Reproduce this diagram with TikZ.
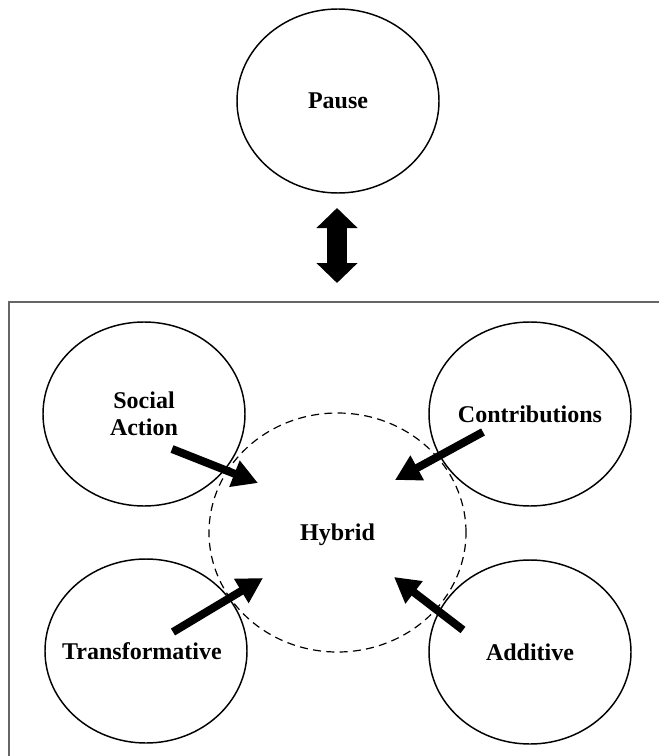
\documentclass[tikz,border=0pt]{standalone}
\usepackage{fontspec}
\setmainfont{Liberation Serif}
\usetikzlibrary{shapes.geometric,arrows.meta}
\newcommand{\zw}[1]{\makebox[0pt]{#1}}
\begin{document}
\begin{tikzpicture}[x=0.75pt,y=-0.75pt,
  oval/.style={draw=black,line width=1.1pt,ellipse,minimum width=151.5pt,minimum height=138pt,
    inner sep=0pt,font=\fontsize{18}{20}\selectfont\bfseries,text depth=0pt,align=center},
  hyb/.style={oval,dashed,dash pattern=on 6pt off 4pt,line width=0.9pt,minimum width=192.75pt,minimum height=179.25pt},
  feed/.style={line width=6pt,-{Triangle[length=19pt,width=20pt]}},
  both/.style={line width=15pt,{Triangle[length=15pt,width=30pt]}-{Triangle[length=15pt,width=30pt]}},
  frame/.style={draw=black!60,line width=1.1pt}]
\useasboundingbox (0,0) rectangle (659,756);
\clip (0,0) rectangle (659,756);
\fill[white] (0,0) rectangle (659,756);
% outer frame (runs past the right and bottom edges)
\draw[frame] (9,302) rectangle (700,800);
% nodes
\node[oval] (pause) at (338,101) {Pause};
\node[hyb] (hybrid) at (337.5,532.5) {Hybrid};
\node[oval] (social) at (144,414) {Social\\Action};
\node[oval] (contrib) at (530,414) {\zw{Contributions}};
\node[oval] (transf) at (146,651) {\zw{\hspace{-6pt}Transformative}};
\node[oval] (additive) at (530,652) {Additive};
% double arrow
\coordinate (dtop) at (337,208);
\coordinate (dbot) at (337,283);
\draw[both] (dtop) -- (dbot);
% feeding arrows
\coordinate (sa1) at (172,449); \coordinate (sa2) at (258,483);
\coordinate (co1) at (483,432); \coordinate (co2) at (395,480);
\coordinate (tr1) at (173,632); \coordinate (tr2) at (263,578);
\coordinate (ad1) at (463,630); \coordinate (ad2) at (394,577);
\draw[feed] (sa1) -- (sa2);
\draw[feed] (co1) -- (co2);
\draw[feed] (tr1) -- (tr2);
\draw[feed] (ad1) -- (ad2);
\end{tikzpicture}
\end{document}
